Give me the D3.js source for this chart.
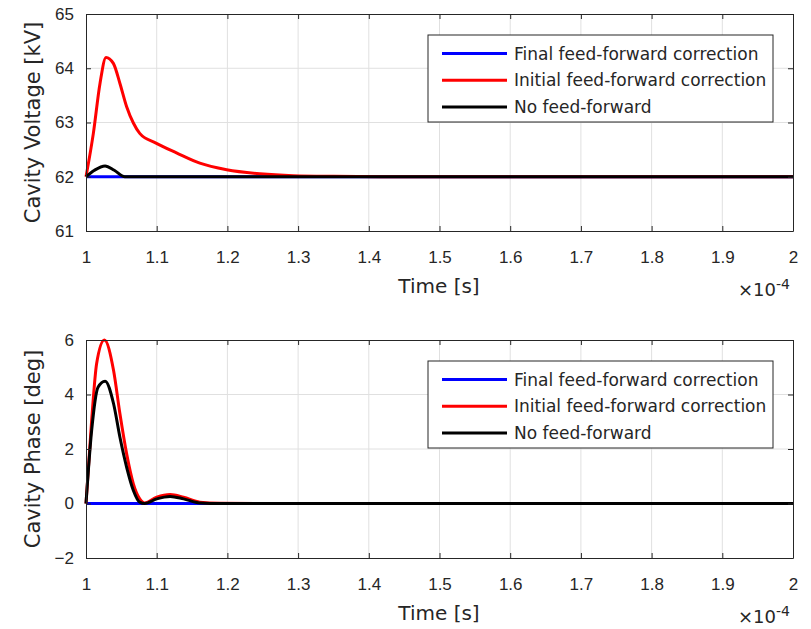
<!DOCTYPE html>
<html>
<head>
<meta charset="utf-8">
<script src="https://cdn.jsdelivr.net/npm/d3@7"></script>
<style>
body { margin: 0; background: #fff; }
svg { font-family: "DejaVu Sans", sans-serif; }
</style>
</head>
<body>
<svg width="811" height="629"></svg>
<script>
// time axis in units of 1e-4 s
var xTicks = [1, 1.1, 1.2, 1.3, 1.4, 1.5, 1.6, 1.7, 1.8, 1.9, 2];
var voltTicks = [61, 62, 63, 64, 65];
var phaseTicks = [-2, 0, 2, 4, 6];
var seriesNames = ["Final feed-forward correction", "Initial feed-forward correction", "No feed-forward"];
var seriesColors = ["#0000ff", "#ff0000", "#000000"];

// top: cavity voltage [kV]
var voltFinal = [[1, 62], [2, 62]];
var voltInitial = [[1, 62], [1.0104, 62.8], [1.0198, 63.72], [1.0283, 64.2], [1.0387, 64.09], [1.048, 63.72],
  [1.0575, 63.29], [1.067, 62.99], [1.076, 62.8], [1.099, 62.62], [1.128, 62.44], [1.161, 62.25], [1.199, 62.13],
  [1.246, 62.055], [1.293, 62.02], [1.35, 62.008], [1.45, 62.001], [1.6, 62], [2, 62]];
var voltNone = [[1, 62], [1.012, 62.12], [1.027, 62.2], [1.04, 62.12], [1.055, 62.0], [1.1, 62], [2, 62]];

// bottom: cavity phase [deg]
var phaseFinal = [[1, 0], [2, 0]];
var phaseInitial = [[1, 0], [1.008, 3.05], [1.015, 5.13], [1.026, 6.0], [1.039, 4.88], [1.048, 3.29], [1.0575, 1.82],
  [1.067, 0.72], [1.076, 0.17], [1.083, 0.02], [1.1, 0.23], [1.119, 0.33], [1.138, 0.23], [1.161, 0.05], [1.19, 0.01],
  [1.25, 0], [2, 0]];
var phaseNone = [[1, 0], [1.008, 2.68], [1.017, 4.27], [1.027, 4.49], [1.039, 3.66], [1.048, 2.43], [1.0575, 1.33],
  [1.067, 0.48], [1.076, 0.05], [1.083, 0], [1.1, 0.17], [1.119, 0.26], [1.138, 0.17], [1.161, 0.02], [1.19, 0],
  [2, 0]];

var svg = d3.select("svg");
var axisColor = "#262626";

function panel(cfg) {
  var x = d3.scaleLinear().domain([1, 2]).range([86, 793]);
  var y = d3.scaleLinear().domain(cfg.yDomain).range([cfg.bottom, cfg.top]);
  var g = svg.append("g");

  // grid
  g.selectAll(".gx").data(xTicks.slice(1, -1)).enter().append("line")
    .attr("x1", x).attr("x2", x).attr("y1", cfg.top).attr("y2", cfg.bottom)
    .attr("stroke", "#e0e0e0").attr("stroke-width", 1);
  g.selectAll(".gy").data(cfg.yTicks.slice(1, -1)).enter().append("line")
    .attr("y1", y).attr("y2", y).attr("x1", 86).attr("x2", 793)
    .attr("stroke", "#e0e0e0").attr("stroke-width", 1);

  // lines
  var line = d3.line().x(function(d) { return x(d[0]); }).y(function(d) { return y(d[1]); })
    .curve(d3.curveMonotoneX);
  cfg.series.forEach(function(s, i) {
    g.append("path").datum(s).attr("d", line)
      .attr("fill", "none").attr("stroke", seriesColors[i]).attr("stroke-width", 3)
      .attr("stroke-linejoin", "round");
  });

  // axes
  var ax = g.append("g").attr("transform", "translate(0," + cfg.bottom + ")")
    .call(d3.axisBottom(x).tickValues(xTicks).tickFormat(d3.format("")).tickSizeInner(-5).tickSizeOuter(0).tickPadding(20));
  var axT = g.append("g").attr("transform", "translate(0," + cfg.top + ")")
    .call(d3.axisTop(x).tickValues(xTicks).tickFormat("").tickSizeInner(-5).tickSizeOuter(0));
  var ay = g.append("g").attr("transform", "translate(86,0)")
    .call(d3.axisLeft(y).tickValues(cfg.yTicks).tickFormat(d3.format("")).tickSizeInner(-5).tickSizeOuter(0).tickPadding(12));
  var ayR = g.append("g").attr("transform", "translate(793,0)")
    .call(d3.axisRight(y).tickValues(cfg.yTicks).tickFormat("").tickSizeInner(-5).tickSizeOuter(0));
  [ax, axT, ay, ayR].forEach(function(a) {
    a.selectAll("path").attr("stroke", axisColor);
    a.selectAll("line").attr("stroke", axisColor);
    a.selectAll("text").attr("fill", axisColor).style("font-size", "17px");
  });

  // axis labels
  g.append("text").attr("x", 439).attr("y", cfg.bottom + 62).attr("text-anchor", "middle")
    .attr("fill", axisColor).style("font-size", "20px").text("Time [s]");
  g.append("text").attr("transform", "translate(40," + ((cfg.top + cfg.bottom) / 2) + ") rotate(-90)")
    .attr("text-anchor", "middle").attr("fill", axisColor).style("font-size", "21px").text(cfg.yLabel);
  var ex = g.append("text").attr("x", 738).attr("y", cfg.bottom + 65).attr("fill", axisColor).style("font-size", "18px");
  ex.append("tspan").text("\u00d710");
  ex.append("tspan").attr("dy", -7).style("font-size", "14px").text("-4");

  // legend
  var lg = g.append("g").attr("transform", "translate(428," + cfg.legendTop + ")");
  lg.append("rect").attr("width", 345).attr("height", 87).attr("fill", "#fff")
    .attr("stroke", axisColor).attr("stroke-width", 1);
  seriesNames.forEach(function(n, i) {
    var yy = 18.5 + i * 26.7;
    lg.append("line").attr("x1", 14).attr("x2", 79).attr("y1", yy).attr("y2", yy)
      .attr("stroke", seriesColors[i]).attr("stroke-width", 3);
    lg.append("text").attr("x", 86).attr("y", yy + 6).attr("fill", axisColor).style("font-size", "17px").text(n);
  });
}

panel({ top: 14, bottom: 231, yDomain: [61, 65], yTicks: voltTicks, yLabel: "Cavity Voltage [kV]",
  series: [voltFinal, voltInitial, voltNone], legendTop: 35 });
panel({ top: 340, bottom: 558, yDomain: [-2, 6], yTicks: phaseTicks, yLabel: "Cavity Phase [deg]",
  series: [phaseFinal, phaseInitial, phaseNone], legendTop: 361 });
</script>
</body>
</html>
